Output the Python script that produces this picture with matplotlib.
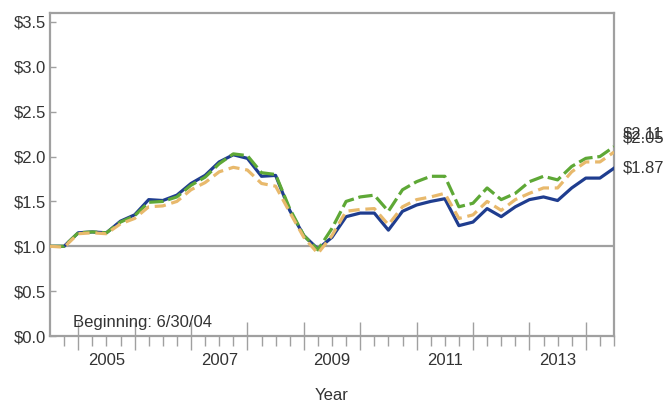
import numpy as np
import matplotlib
matplotlib.use('Agg')
import matplotlib.pyplot as plt
from matplotlib.ticker import FixedLocator

plt.rcParams['font.family'] = ['Liberation Sans', 'DejaVu Sans']

# quarterly dates from 6/30/04 to 6/30/14
quarters = 2004.5 + 0.25 * np.arange(41)

blue = [1.00, 1.00, 1.15, 1.16, 1.15, 1.28, 1.35, 1.52, 1.51, 1.57,
        1.70, 1.79, 1.94, 2.02, 1.98, 1.78, 1.79, 1.40, 1.12, 0.97,
        1.10, 1.33, 1.37, 1.37, 1.18, 1.39, 1.46, 1.50, 1.53, 1.23,
        1.27, 1.42, 1.33, 1.44, 1.52, 1.55, 1.51, 1.65, 1.76, 1.76, 1.87]
green = [1.00, 1.00, 1.15, 1.16, 1.15, 1.27, 1.34, 1.49, 1.50, 1.55,
         1.68, 1.77, 1.92, 2.03, 2.01, 1.82, 1.80, 1.42, 1.12, 0.96,
         1.20, 1.50, 1.55, 1.57, 1.39, 1.63, 1.72, 1.78, 1.78, 1.44,
         1.48, 1.65, 1.52, 1.59, 1.72, 1.78, 1.74, 1.89, 1.98, 2.00, 2.11]
orange = [1.00, 0.99, 1.14, 1.15, 1.14, 1.25, 1.31, 1.44, 1.45, 1.50,
          1.63, 1.71, 1.83, 1.88, 1.85, 1.70, 1.67, 1.38, 1.10, 0.92,
          1.12, 1.39, 1.41, 1.42, 1.24, 1.44, 1.52, 1.55, 1.59, 1.31,
          1.35, 1.50, 1.40, 1.52, 1.59, 1.65, 1.65, 1.83, 1.94, 1.94, 2.05]

year_labels = [2005, 2007, 2009, 2011, 2013]
y_ticks = [0.0, 0.5, 1.0, 1.5, 2.0, 2.5, 3.0, 3.5]

BLUE = '#1f3d8f'
GREEN = '#5ea836'
ORANGE = '#e8b96c'
GRAY = '#a0a0a0'
TXT = '#333333'

fig = plt.figure(figsize=(6.68, 4.04), dpi=100)
ax = fig.add_axes([50 / 668, 1 - 336 / 404, (614 - 50) / 668, (336 - 13) / 404])

ax.axhline(1.0, color=GRAY, lw=1.6, zorder=1)

ax.plot(quarters, blue, color=BLUE, lw=2.3, zorder=3)
ax.plot(quarters, green, color=GREEN, lw=2.3, dashes=(4.5, 1.5), zorder=4)
ax.plot(quarters, orange, color=ORANGE, lw=2.3, dashes=(3.5, 1.8), zorder=5)

ax.set_xlim(2004.5, 2014.5)
ax.set_ylim(0, 3.6)

# y axis
ax.set_yticks(y_ticks)
ax.set_yticklabels([f'${v:.1f}' for v in y_ticks])
ax.tick_params(axis='y', direction='in', length=4, width=1, color=GRAY,
               labelsize=12, labelcolor=TXT, pad=3)

# x axis: long ticks at year boundaries, short ones at quarters
years = np.arange(2005, 2015)
ax.xaxis.set_major_locator(FixedLocator(years))
ax.xaxis.set_minor_locator(FixedLocator([q for q in quarters[1:] if q % 1 != 0]))
ax.set_xticklabels([])
ax.tick_params(axis='x', which='major', direction='inout', length=20, width=1, color=GRAY)
ax.tick_params(axis='x', which='minor', direction='out', length=7, width=1, color=GRAY)
for yr in year_labels:
    ax.text(yr + 0.5, -0.27, str(yr), ha='center', va='center', fontsize=12,
            color=TXT, transform=ax.transData, clip_on=False)
ax.set_xlabel('Year', fontsize=12, color=TXT, labelpad=24)

for s in ax.spines.values():
    s.set_color(GRAY)
    s.set_linewidth(1.6)

ax.text(2004.9, 0.15, 'Beginning: 6/30/04', fontsize=12, color=TXT,
        va='center', ha='left', zorder=6)

# end labels
ends = [(green[-1], 9), (orange[-1], 10), (blue[-1], 0)]
for val, off in ends:
    ax.annotate(f'${val:.2f}', (quarters[-1], val), xytext=(6, off),
                textcoords='offset points', fontsize=12, color=TXT,
                va='center', ha='left', annotation_clip=False)

fig.savefig('out.png', dpi=100)
